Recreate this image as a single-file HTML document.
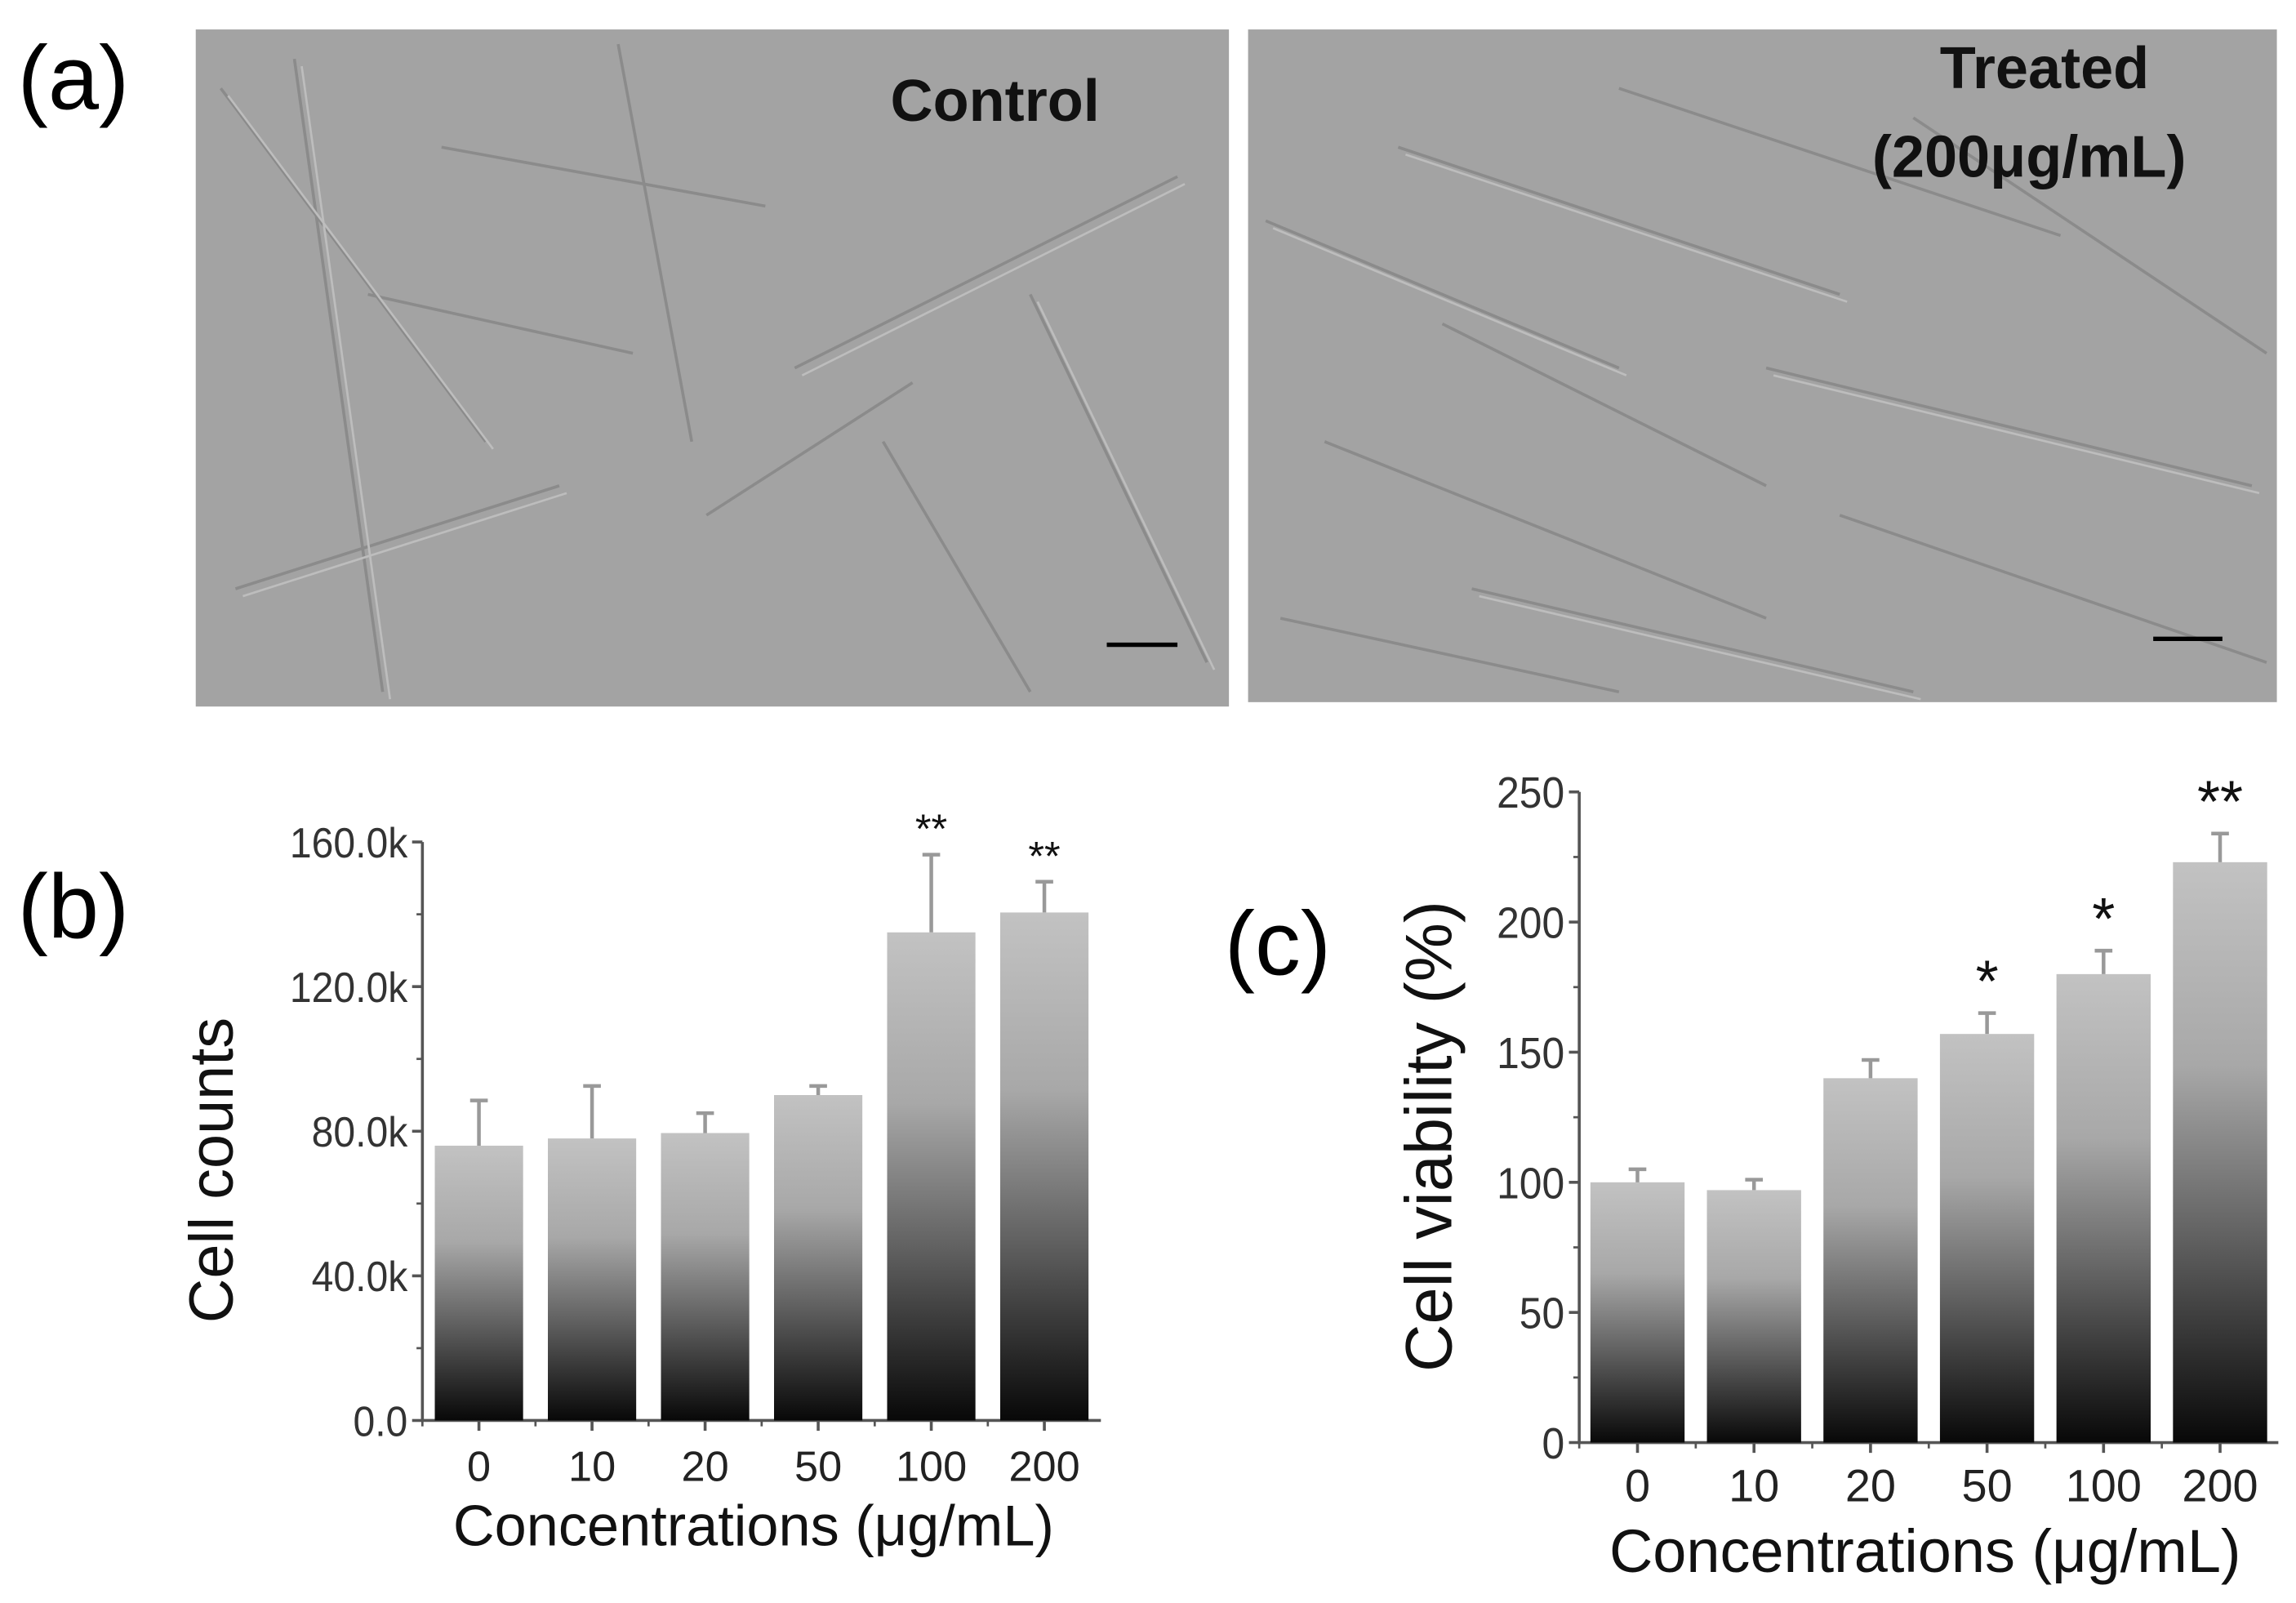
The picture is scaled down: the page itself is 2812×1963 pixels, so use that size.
<!DOCTYPE html>
<html><head><meta charset="utf-8"><style>
html,body{margin:0;padding:0;background:#fff;}
svg{display:block;}
text{font-family:"Liberation Sans",sans-serif;}
</style></head><body>
<svg id="fig" width="2812" height="1963" viewBox="0 0 1560 1089" preserveAspectRatio="none" xmlns="http://www.w3.org/2000/svg">
<defs>
<linearGradient id="barg" x1="0" y1="0" x2="0" y2="1">
<stop offset="0" stop-color="#c2c2c2"/><stop offset="0.35" stop-color="#a8a8a8"/><stop offset="0.65" stop-color="#606060"/><stop offset="1" stop-color="#080808"/>
</linearGradient>
</defs>
<rect width="1560" height="1089" fill="#fff"/>
<text x="12" y="74" font-size="62">(a)</text>
<g>
<rect x="133" y="20" width="702" height="460" fill="#a3a3a3"/>
<g stroke="#858585" stroke-width="2" fill="none" opacity="0.8">
<path d="M150 60 L330 300 M200 40 L260 470 M300 100 L520 140 M420 30 L470 300 M540 250 L800 120 M600 300 L700 470 M160 400 L380 330 M700 200 L820 450 M480 350 L620 260 M250 200 L430 240"/>
</g>
<g stroke="#bdbdbd" stroke-width="1.5" fill="none">
<path d="M155 65 L335 305 M205 45 L265 475 M545 255 L805 125 M165 405 L385 335 M705 205 L825 455"/>
</g>
<text x="605" y="82" font-size="40" font-weight="bold" fill="#111">Control</text>
<line x1="752" y1="438" x2="800" y2="438" stroke="#000" stroke-width="3"/>
</g>
<g>
<rect x="848" y="20" width="699" height="457" fill="#a3a3a3"/>
<g stroke="#858585" stroke-width="2" fill="none" opacity="0.8">
<path d="M860 150 L1100 250 M900 300 L1200 420 M950 100 L1250 200 M1000 400 L1300 470 M1100 60 L1400 160 M1200 250 L1530 330 M870 420 L1100 470 M1300 80 L1540 240 M1250 350 L1540 450 M980 220 L1200 330"/>
</g>
<g stroke="#bdbdbd" stroke-width="1.5" fill="none">
<path d="M865 155 L1105 255 M955 105 L1255 205 M1205 255 L1535 335 M1005 405 L1305 475"/>
</g>
<text x="1318" y="60" font-size="40" font-weight="bold" fill="#111">Treated</text>
<text x="1272" y="120" font-size="40" font-weight="bold" fill="#111">(200μg/mL)</text>
<line x1="1463" y1="434" x2="1510" y2="434" stroke="#000" stroke-width="3"/>
</g>
<text x="12" y="637" font-size="62">(b)</text>
<text x="832" y="662" font-size="62">(c)</text>
<g id="chartB"></g>
<g id="chartC"></g>
</svg>
<script>
const categories = ["0","10","20","50","100","200"];
const countsValues = [76000, 78000, 79500, 90000, 135000, 140500];
const countsErrTop = [88500, 92500, 85000, 92500, 156500, 149000];
const countsSig = ["","","","","**","**"];
const countsTicks = [0, 40000, 80000, 120000, 160000];
const countsTickLabels = ["0.0","40.0k","80.0k","120.0k","160.0k"];
const viabValues = [100, 97, 140, 157, 180, 223];
const viabErrTop = [105, 101, 147, 165, 189, 234];
const viabSig = ["","","","*","*","**"];
const viabTicks = [0, 50, 100, 150, 200, 250];
const viabTickLabels = ["0","50","100","150","200","250"];

const NS="http://www.w3.org/2000/svg";
function mk(parent,tag,attrs){const e=document.createElementNS(NS,tag);for(const k in attrs)e.setAttribute(k,attrs[k]);parent.appendChild(e);return e;}

function drawChart(g,cfg){
  const {x0,x1,yTop,yBot,max,vals,errs,sig,ticks,tickLabels,tickFs,catFs,catY,title,titleX,titleY,titleFs,ylab,ylabX,ylabY,ylabFs,sigFs,barW}=cfg;
  const ys=v=>yBot-(v/max)*(yBot-yTop);
  const n=categories.length, step=(x1-x0)/n;
  const xc=i=>x0+step*(i+0.5);
  const ax=mk(g,'path',{d:`M${x0} ${yTop} L${x0} ${yBot} L${x1} ${yBot}`,stroke:'#555','stroke-width':2,fill:'none'});
  
  
  ticks.forEach((t,i)=>{
    mk(g,'line',{x1:x0-7,x2:x0,y1:ys(t),y2:ys(t),stroke:'#555','stroke-width':2});
    if(i<ticks.length-1) mk(g,'line',{x1:x0-4,x2:x0,y1:ys(t+(ticks[1]-ticks[0])/2),y2:ys(t+(ticks[1]-ticks[0])/2),stroke:'#555','stroke-width':1.5});
    const tl=mk(g,'text',{x:x0-10,y:ys(t)+tickFs*0.36,'font-size':tickFs,'text-anchor':'end',fill:'#333',transform:`translate(${x0-10} 0) scale(0.92 1) translate(${-(x0-10)} 0)`});
    tl.textContent=tickLabels[i];
    
    
  });
  categories.forEach((c,i)=>{
    const xx=xc(i);
    mk(g,'line',{x1:xx,x2:xx,y1:yBot,y2:yBot+7,stroke:'#555','stroke-width':2});
    mk(g,'line',{x1:x0+step*i,x2:x0+step*i,y1:yBot,y2:yBot+4,stroke:'#555','stroke-width':1.5});
    const b=mk(g,'rect',{x:xx-barW/2,y:ys(vals[i]),width:barW,height:yBot-ys(vals[i]),fill:'url(#barg)'});
    
    
    const e=mk(g,'path',{d:`M${xx} ${ys(vals[i])} L${xx} ${ys(errs[i])} M${xx-6} ${ys(errs[i])} L${xx+6} ${ys(errs[i])}`,stroke:'#999','stroke-width':2.5,fill:'none'});
    
    
    if(sig[i]){const s=mk(g,'text',{x:xx,y:ys(errs[i])-8,'font-size':sigFs,'text-anchor':'middle',fill:'#111'});s.textContent=sig[i];
      
      }
    const cl=mk(g,'text',{x:xx,y:catY,'font-size':catFs,'text-anchor':'middle',fill:'#222'});cl.textContent=c;
    
    
  });
  const t=mk(g,'text',{x:titleX,y:titleY,'font-size':titleFs,'text-anchor':'middle',fill:'#111'});t.textContent=title;
  
  
  const yl=mk(g,'text',{x:ylabX,y:ylabY,'font-size':ylabFs,'text-anchor':'middle',fill:'#111',transform:`rotate(-90 ${ylabX} ${ylabY})`});yl.textContent=ylab;
  
  
}
drawChart(document.getElementById('chartB'),{x0:287,x1:748,yTop:572,yBot:965,max:160000,vals:countsValues,errs:countsErrTop,sig:countsSig,ticks:countsTicks,tickLabels:countsTickLabels,tickFs:29,catFs:29,catY:1006,title:"Concentrations (μg/mL)",titleX:512,titleY:1050,titleFs:39,ylab:"Cell counts",ylabX:158,ylabY:795,ylabFs:42,sigFs:28,barW:60});
drawChart(document.getElementById('chartC'),{x0:1073,x1:1548,yTop:538,yBot:980,max:250,vals:viabValues,errs:viabErrTop,sig:viabSig,ticks:viabTicks,tickLabels:viabTickLabels,tickFs:30,catFs:31,catY:1020,title:"Concentrations (μg/mL)",titleX:1308,titleY:1068,titleFs:41,ylab:"Cell viability (%)",ylabX:986,ylabY:772,ylabFs:45,sigFs:40,barW:64});
</script>
</body></html>
